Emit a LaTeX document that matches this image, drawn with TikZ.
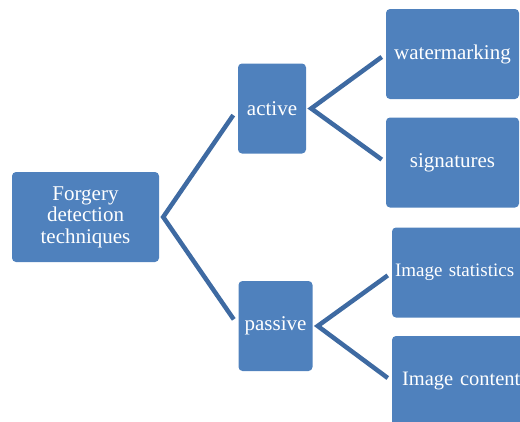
\documentclass[tikz,border=0pt]{standalone}
\usepackage{fontspec}
\setmainfont{Liberation Serif}
\definecolor{boxblue}{RGB}{79,129,189}
\definecolor{lineblue}{RGB}{62,106,162}
\begin{document}
\begin{tikzpicture}[x=1pt,y=-1pt,
	box/.style={rectangle,rounded corners=4pt,fill=boxblue,text=white,inner sep=0pt,
		align=center,font=\fontsize{21}{21.5}\selectfont},
	link/.style={draw=lineblue,line width=4.5pt,shorten <=#1,shorten >=#1}]
				\clip (0,0) rectangle (520,421);
				\pgfmathsetmacro\BH{90}

				\node[box,minimum width=147pt,minimum height=\BH pt] (root) at (85.5,217) {Forgery\\detection\\techniques};
				\node[box,minimum width=68pt,minimum height=\BH pt] (active) at (272,108.5) {active};
				\node[box,minimum width=74pt,minimum height=\BH pt] (passive) at (275.5,326) {passive};
				\node[box,minimum width=133pt,minimum height=\BH pt] (water) at (452.5,54) {watermarking};
				\node[box,minimum width=133pt,minimum height=\BH pt] (sign) at (452.5,162.5) {signatures};
				\node[box,minimum width=142pt,minimum height=\BH pt,text width=136pt,align=left,
					font=\fontsize{19}{20}\selectfont] (stats) at (463,272.5) {Image statistics};
				\node[box,minimum width=142pt,minimum height=\BH pt,text width=122pt,align=left,
					font=\fontsize{20.5}{21}\selectfont] (content) at (463,381) {Image content};

				\draw[link=8pt] (active.west) -- ([xshift=4pt]root.east) -- (passive.west);
				\draw[link=5pt] (water.west) -- ([xshift=5pt]active.east) -- (sign.west);
				\draw[link=5pt] (stats.west) -- ([xshift=5pt]passive.east) -- (content.west);
\end{tikzpicture}
\end{document}
